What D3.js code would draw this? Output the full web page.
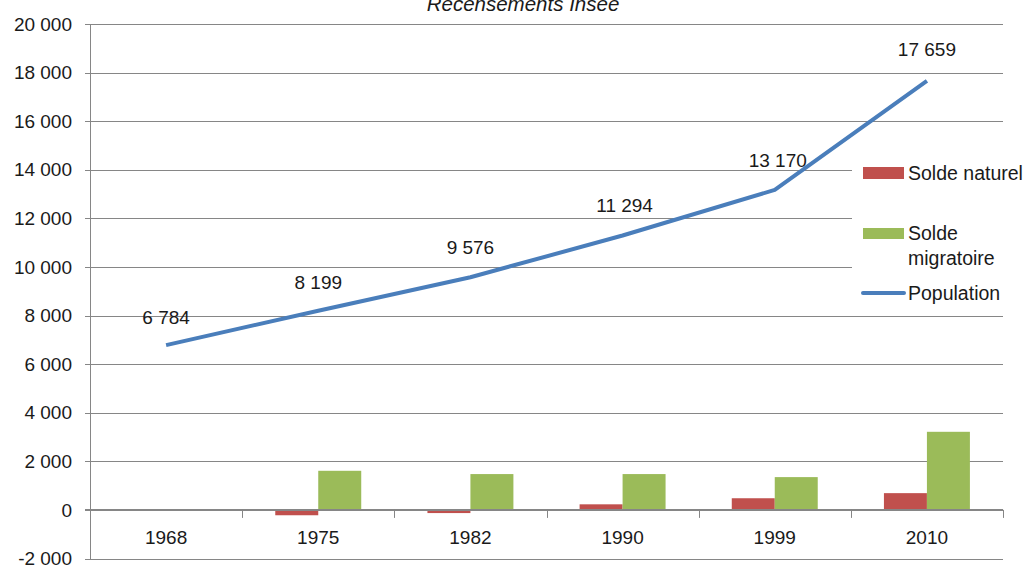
<!DOCTYPE html>
<html><head><meta charset="utf-8">
<script src="https://cdn.jsdelivr.net/npm/d3@7"></script>
<style>
html,body{margin:0;padding:0;background:#fff;}
svg text{font-family:"Liberation Sans",Arial,sans-serif;fill:#1a1a1a;}
</style></head>
<body>
<svg id="chart" width="1027" height="565"></svg>
<script>
const years = ["1968","1975","1982","1990","1999","2010"];
const soldeNaturel = [0, -220, -130, 230, 480, 690];
const soldeMigratoire = [0, 1610, 1475, 1475, 1350, 3215];
const population = [6784, 8199, 9576, 11294, 13170, 17659];
const populationLabels = ["6 784","8 199","9 576","11 294","13 170","17 659"];
const yTicks = [-2000,0,2000,4000,6000,8000,10000,12000,14000,16000,18000,20000];
const seriesNames = ["Solde naturel","Solde migratoire","Population"];
const colors = {nat:"#c0504d", mig:"#9bbb59", pop:"#4a7ebb", grid:"#868686"};

(function(){
const svg = d3.select("#chart");
const mLeft = 90, mRight = 1003, mTop = 24, mBottom = 558.5;

const x = d3.scaleBand().domain(years).range([mLeft, mRight]).paddingInner(0).paddingOuter(0);
const y = d3.scaleLinear().domain([-2000, 20000]).range([mBottom, mTop]);
const xs = d3.scaleBand().domain(["nat","mig"]).range([0, x.bandwidth()]).paddingOuter(0.77).paddingInner(0);

const fmt = v => d3.format(",")(v).replace(/,/g, " ").replace("−","-");

// gridlines
svg.append("g").selectAll("line").data(yTicks.filter(d=>d!==0)).join("line")
  .attr("x1", mLeft-5).attr("x2", mRight)
  .attr("y1", d=>Math.round(y(d))+0.5).attr("y2", d=>Math.round(y(d))+0.5)
  .attr("stroke", colors.grid).attr("stroke-width", 1);

// y axis line
svg.append("line").attr("x1", mLeft+0.5).attr("x2", mLeft+0.5).attr("y1", mTop).attr("y2", mBottom+1)
  .attr("stroke", colors.grid).attr("stroke-width", 1);

// y tick labels
svg.append("g").selectAll("text").data(yTicks).join("text")
  .attr("x", 72).attr("y", d=>y(d)).attr("dy","0.35em")
  .attr("text-anchor","end").attr("font-size", 19)
  .text(d=>fmt(d));

// bars
const g = svg.append("g");
years.forEach((yr,i)=>{
  const vals = [["nat", soldeNaturel[i]], ["mig", soldeMigratoire[i]]];
  vals.forEach(([k,v])=>{
    if (v === 0) return;
    g.append("rect")
      .attr("x", x(yr)+xs(k)).attr("width", xs.bandwidth())
      .attr("y", y(Math.max(0,v))).attr("height", Math.abs(y(v)-y(0)))
      .attr("fill", colors[k]);
  });
});

// x axis (zero line)
svg.append("line").attr("x1", mLeft-5).attr("x2", mRight).attr("y1", y(0)).attr("y2", y(0))
  .attr("stroke", colors.grid).attr("stroke-width", 2);
const bounds = years.map(d=>x(d)).concat([mRight]).slice(1);
svg.append("g").selectAll("line").data(bounds).join("line")
  .attr("x1", d=>Math.round(d)+0.5).attr("x2", d=>Math.round(d)+0.5)
  .attr("y1", y(0)).attr("y2", y(0)+8)
  .attr("stroke", colors.grid).attr("stroke-width", 1);
svg.append("g").selectAll("text").data(years).join("text")
  .attr("x", d=>x(d)+x.bandwidth()/2).attr("y", 544)
  .attr("text-anchor","middle").attr("font-size", 19).text(d=>d);

// population line
const line = d3.line().x((d,i)=>x(years[i])+x.bandwidth()/2).y(d=>y(d));
svg.append("path").datum(population).attr("d", line)
  .attr("fill","none").attr("stroke", colors.pop).attr("stroke-width", 4)
  .attr("stroke-linejoin","round");

// data labels
svg.append("g").selectAll("text").data(population).join("text")
  .attr("x", (d,i)=>x(years[i])+x.bandwidth()/2 + [0,0,0,2,3,0][i])
  .attr("y", (d,i)=>y(d)-[21,22,23,24,23,25][i])
  .attr("text-anchor","middle").attr("font-size", 19)
  .text((d,i)=>populationLabels[i]);

// title
svg.append("text").attr("x", 523).attr("y", 11).attr("text-anchor","middle")
  .attr("font-size", 20.5).attr("font-style","italic").text("Recensements Insee");

// legend
const lg = svg.append("g");
lg.append("rect").attr("x", 852).attr("y", 146).attr("width", 175).attr("height", 163).attr("fill","#fff");
lg.append("rect").attr("x", 863).attr("y", 167).attr("width", 41).attr("height", 12).attr("fill", colors.nat);
lg.append("text").attr("x", 908).attr("y", 173).attr("dy","0.35em").attr("font-size", 19.5).text(seriesNames[0]);
lg.append("rect").attr("x", 863).attr("y", 228).attr("width", 41).attr("height", 11).attr("fill", colors.mig);
const t2 = lg.append("text").attr("x", 908).attr("y", 233).attr("dy","0.35em").attr("font-size", 19.5);
t2.append("tspan").attr("x", 908).text("Solde");
t2.append("tspan").attr("x", 908).attr("dy", "1.3em").text("migratoire");
lg.append("line").attr("x1", 863).attr("x2", 904).attr("y1", 293).attr("y2", 293)
  .attr("stroke", colors.pop).attr("stroke-width", 4).attr("stroke-linecap","round");
lg.append("text").attr("x", 908).attr("y", 293).attr("dy","0.35em").attr("font-size", 19.5).text(seriesNames[2]);
})();
</script>
</body></html>
